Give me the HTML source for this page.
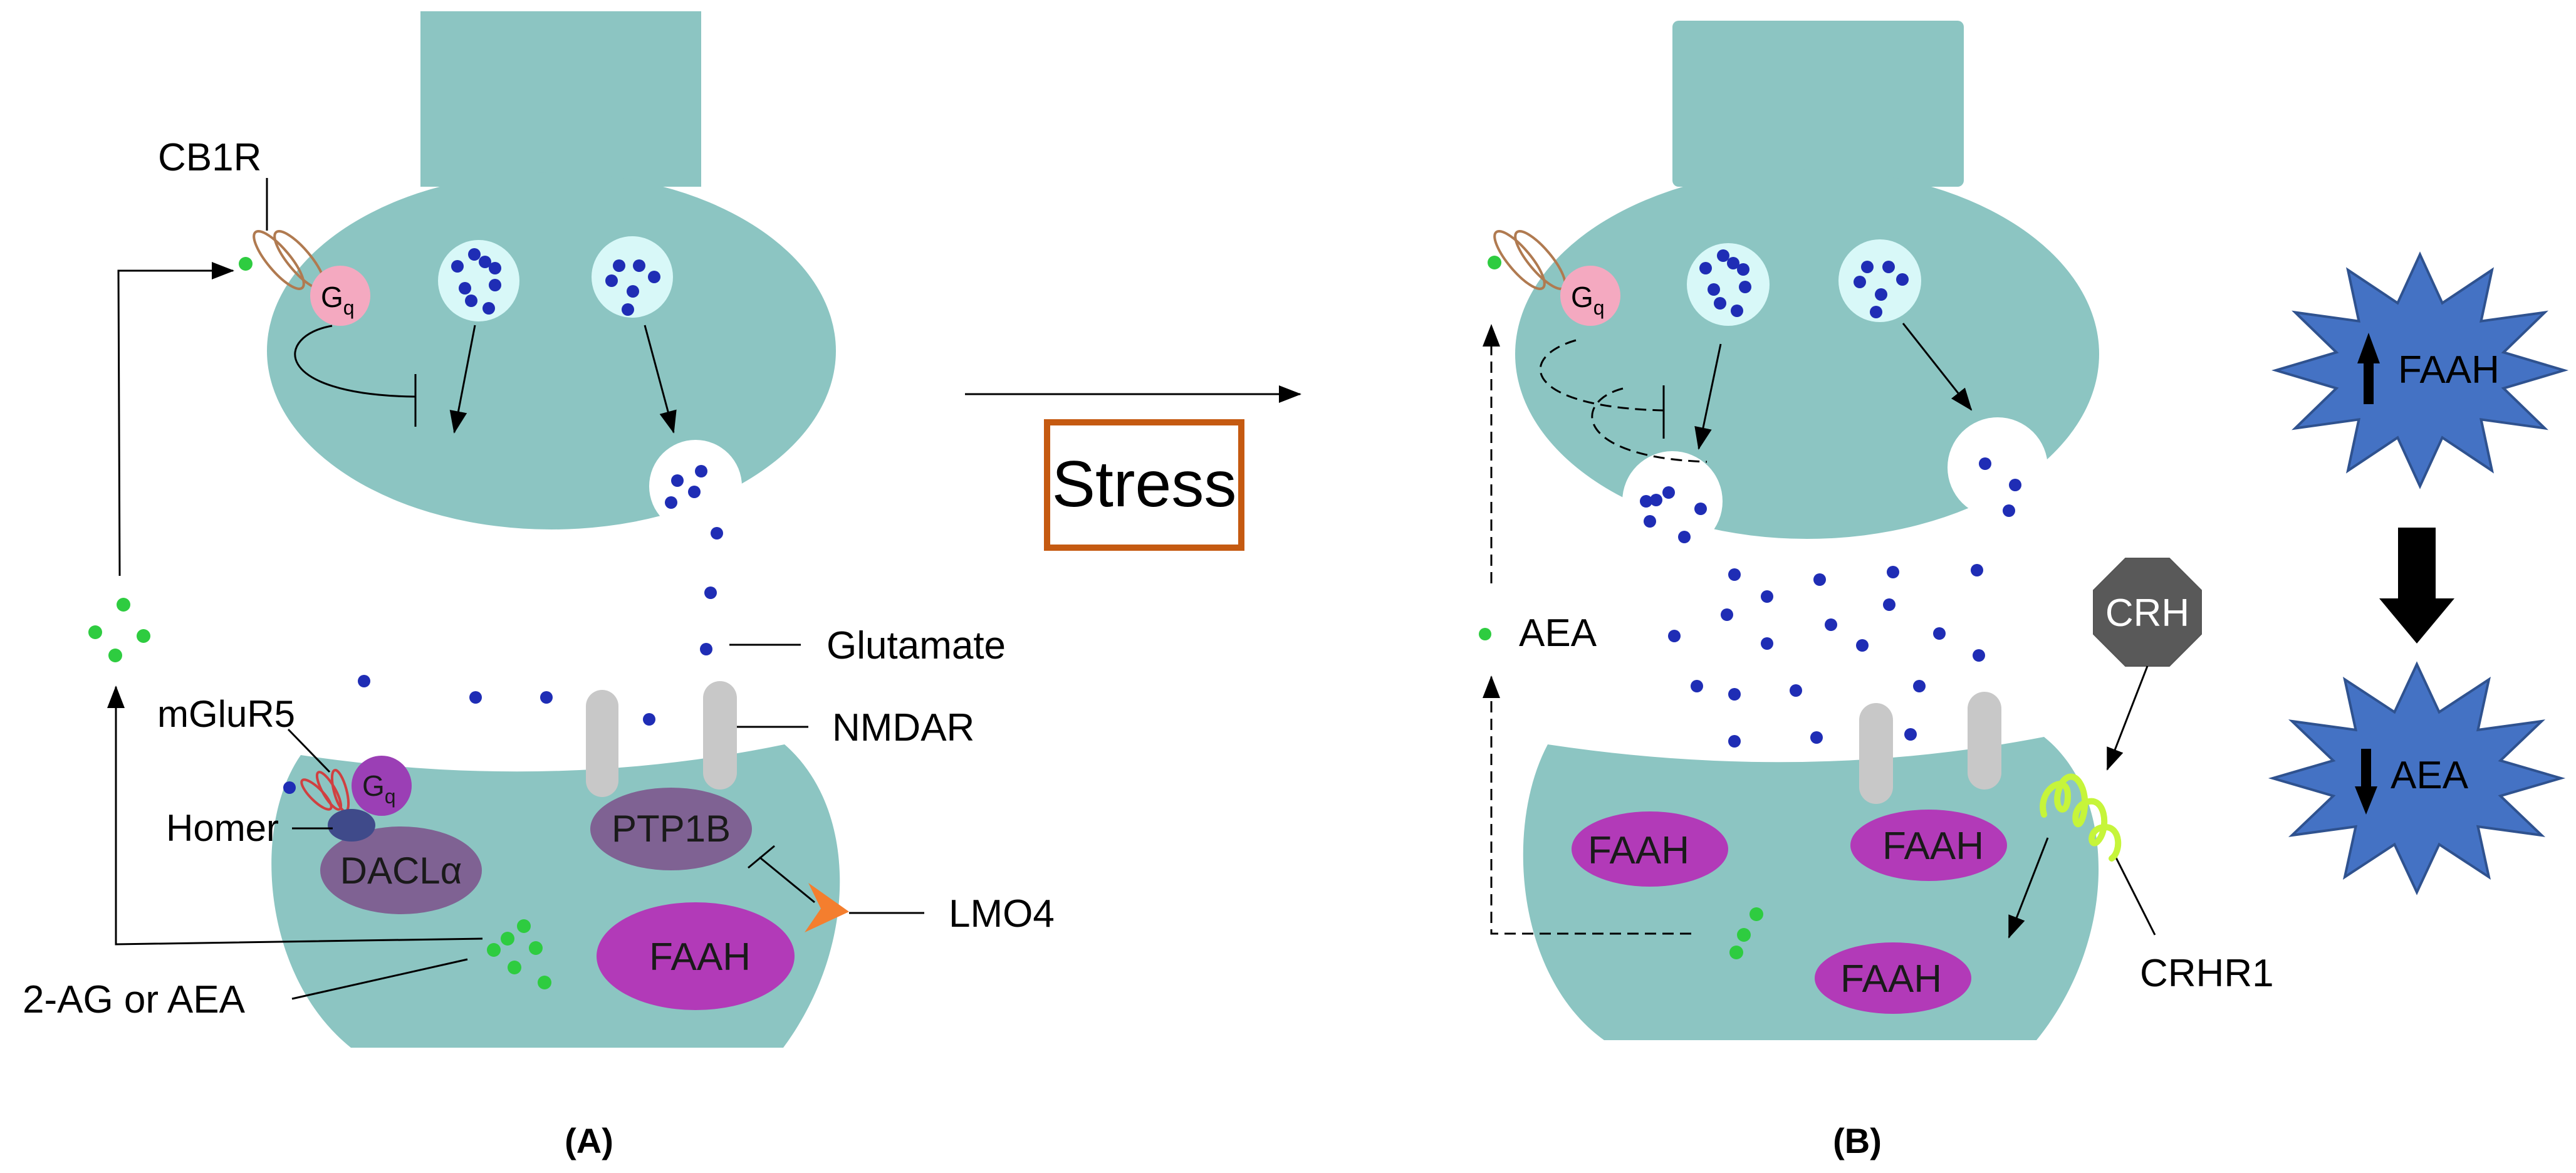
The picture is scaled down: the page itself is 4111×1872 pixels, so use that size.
<!DOCTYPE html>
<html><head><meta charset="utf-8"><style>
html,body{margin:0;padding:0;background:#fff;}
svg{display:block;}
text{font-family:"Liberation Sans",sans-serif;}
</style></head><body>
<svg width="4111" height="1872" viewBox="0 0 4111 1872" xmlns="http://www.w3.org/2000/svg">
<defs>
<marker id="ah" markerWidth="10" markerHeight="10" refX="9" refY="5" orient="auto" markerUnits="userSpaceOnUse" viewBox="0 0 10 10"><path d="M0,0 L10,5 L0,10 z" fill="#000"/></marker>
<marker id="ahb" markerWidth="36" markerHeight="36" refX="34" refY="18" orient="auto" markerUnits="userSpaceOnUse" viewBox="0 0 36 36"><path d="M0,4 L36,18 L0,32 z" fill="#000"/></marker>
<g id="star"><polygon vector-effect="non-scaling-stroke" points="100,0 58,15.5 86.6,50 42.4,42.4 50,86.6 15.5,58 0,100 -15.5,58 -50,86.6 -42.4,42.4 -86.6,50 -58,15.5 -100,0 -58,-15.5 -86.6,-50 -42.4,-42.4 -50,-86.6 -15.5,-58 0,-100 15.5,-58 50,-86.6 42.4,-42.4 86.6,-50 58,-15.5" fill="#4472c4" stroke="#2f528f" stroke-width="4"/></g>
</defs>

<!-- ============ PANEL A ============ -->
<g fill="#8cc5c2">
<rect x="671" y="18" width="448" height="280"/>
<ellipse cx="880" cy="560" rx="454" ry="285"/>
<path d="M480 1205 Q 880 1265 1252 1188 C 1370 1290 1370 1510 1250 1672 L 560 1672 C 420 1560 400 1320 480 1205 Z"/>
</g>
<circle cx="1110" cy="776" r="74" fill="#fff"/>
<!-- vesicles -->
<circle cx="764" cy="448" r="65" fill="#d8f8f8"/>
<circle cx="1009" cy="442" r="65" fill="#d8f8f8"/>
<g fill="#1f2db5">
<circle cx="730" cy="425" r="10"/><circle cx="757" cy="406" r="10"/><circle cx="774" cy="418" r="10"/><circle cx="790" cy="428" r="10"/><circle cx="742" cy="460" r="10"/><circle cx="790" cy="455" r="10"/><circle cx="752" cy="480" r="10"/><circle cx="780" cy="492" r="10"/>
<circle cx="988" cy="424" r="10"/><circle cx="1020" cy="424" r="10"/><circle cx="976" cy="448" r="10"/><circle cx="1044" cy="442" r="10"/><circle cx="1010" cy="465" r="10"/><circle cx="1002" cy="494" r="10"/>
<circle cx="1081" cy="767" r="10"/><circle cx="1119" cy="752" r="10"/><circle cx="1108" cy="785" r="10"/><circle cx="1071" cy="802" r="10"/>
<circle cx="1144" cy="851" r="10"/><circle cx="1134" cy="946" r="10"/><circle cx="1127" cy="1036" r="10"/>
<circle cx="581" cy="1087" r="10"/><circle cx="759" cy="1113" r="10"/><circle cx="872" cy="1113" r="10"/><circle cx="1036" cy="1148" r="10"/><circle cx="462" cy="1257" r="10"/>
</g>
<g stroke="#000" stroke-width="3" fill="none">
<line x1="758" y1="519" x2="725" y2="690" marker-end="url(#ahb)"/>
<line x1="1029" y1="519" x2="1075" y2="690" marker-end="url(#ahb)"/>
<path d="M530 520 C 440 535, 430 630, 662 633"/>
<line x1="663" y1="597" x2="663" y2="681"/>
</g>
<!-- CB1R -->
<g fill="none" stroke="#b07a50" stroke-width="4">
<ellipse cx="445" cy="415" rx="18" ry="58" transform="rotate(-40 445 415)"/>
<ellipse cx="478" cy="415" rx="18" ry="58" transform="rotate(-40 478 415)"/>
</g>
<circle cx="543" cy="472" r="48" fill="#f4a9c0"/>
<text x="512" y="490" font-size="46">G<tspan font-size="32" dy="12">q</tspan></text>
<circle cx="392" cy="421" r="11" fill="#2ecc40"/>
<text x="252" y="272" font-size="62">CB1R</text>
<line x1="426" y1="284" x2="426" y2="368" stroke="#000" stroke-width="3"/>
<!-- feedback arrow -->
<polyline points="191,919 189,432 372,432" fill="none" stroke="#000" stroke-width="3" marker-end="url(#ahb)"/>
<g fill="#2ecc40">
<circle cx="197" cy="965" r="11"/><circle cx="152" cy="1009" r="11"/><circle cx="229" cy="1015" r="11"/><circle cx="184" cy="1046" r="11"/>
</g>
<polyline points="770,1498 185,1507 185,1096" fill="none" stroke="#000" stroke-width="3" marker-end="url(#ahb)"/>
<!-- NMDAR -->
<rect x="935" y="1101" width="52" height="171" rx="26" fill="#c8c8c8"/>
<rect x="1122" y="1087" width="54" height="173" rx="27" fill="#c8c8c8"/>
<!-- ellipses -->
<ellipse cx="1071" cy="1323" rx="129" ry="66" fill="#7f6293"/>
<text x="1071" y="1343" font-size="60" text-anchor="middle" fill="#1a1a1a">PTP1B</text>
<ellipse cx="640" cy="1389" rx="129" ry="70" fill="#7f6293"/>
<text x="640" y="1410" font-size="60" text-anchor="middle" fill="#1a1a1a">DACLα</text>
<ellipse cx="1110" cy="1526" rx="158" ry="86" fill="#b23ab8"/>
<text x="1117" y="1548" font-size="62" text-anchor="middle" fill="#1a1a1a">FAAH</text>
<!-- mGluR5 -->
<g fill="none" stroke="#d04040" stroke-width="4">
<ellipse cx="505" cy="1268" rx="10" ry="32" transform="rotate(-45 505 1268)"/>
<ellipse cx="525" cy="1262" rx="10" ry="34" transform="rotate(-30 525 1262)"/>
<ellipse cx="543" cy="1262" rx="10" ry="34" transform="rotate(-15 543 1262)"/>
</g>
<circle cx="609" cy="1254" r="48" fill="#9b3fb5"/>
<text x="578" y="1270" font-size="46" fill="#1a1a1a">G<tspan font-size="32" dy="12">q</tspan></text>
<ellipse cx="561" cy="1317" rx="38" ry="26" fill="#3f4a8a"/>
<text x="251" y="1160" font-size="60">mGluR5</text>
<line x1="460" y1="1164" x2="526" y2="1232" stroke="#000" stroke-width="3"/>
<text x="265" y="1342" font-size="60">Homer</text>
<line x1="466" y1="1322" x2="531" y2="1322" stroke="#000" stroke-width="3"/>
<!-- LMO4 -->
<polygon points="1290,1409 1355,1455 1284,1488 1310,1450" fill="#f47e2e"/>
<g stroke="#000" stroke-width="3">
<line x1="1300" y1="1440" x2="1212" y2="1368"/>
<line x1="1194" y1="1385" x2="1236" y2="1350"/>
<line x1="1355" y1="1457" x2="1475" y2="1457"/>
<line x1="466" y1="1594" x2="746" y2="1531"/>
<line x1="1164" y1="1029" x2="1278" y2="1029"/>
<line x1="1176" y1="1160" x2="1290" y2="1160"/>
</g>
<text x="1514" y="1479" font-size="62">LMO4</text>
<text x="1319" y="1051" font-size="62">Glutamate</text>
<text x="1328" y="1182" font-size="62">NMDAR</text>
<g fill="#2ecc40">
<circle cx="836" cy="1478" r="11"/><circle cx="810" cy="1498" r="11"/><circle cx="788" cy="1516" r="11"/><circle cx="855" cy="1513" r="11"/><circle cx="821" cy="1544" r="11"/><circle cx="869" cy="1568" r="11"/>
</g>
<text x="36" y="1616" font-size="62">2-AG or AEA</text>
<text x="940" y="1840" font-size="56" font-weight="bold" text-anchor="middle">(A)</text>

<!-- ============ STRESS ============ -->
<line x1="1540" y1="629" x2="2075" y2="629" stroke="#000" stroke-width="3" marker-end="url(#ahb)"/>
<rect x="1671" y="674" width="310" height="200" fill="#fff" stroke="#c55a11" stroke-width="10"/>
<text x="1826" y="808" font-size="104" text-anchor="middle">Stress</text>

<!-- ============ PANEL B ============ -->
<g fill="#8cc5c2">
<rect x="2669" y="33" width="465" height="265" rx="10"/>
<ellipse cx="2884" cy="565" rx="466" ry="295"/>
<path d="M2470 1188 Q 2880 1250 3262 1176 C 3380 1270 3380 1500 3250 1660 L 2560 1660 C 2420 1560 2400 1320 2470 1188 Z"/>
</g>
<circle cx="2669" cy="800" r="80" fill="#fff"/>
<circle cx="3188" cy="746" r="80" fill="#fff"/>
<circle cx="2758" cy="454" r="66" fill="#d8f8f8"/>
<circle cx="3000" cy="448" r="66" fill="#d8f8f8"/>
<g fill="#1f2db5">
<circle cx="2722" cy="428" r="10"/><circle cx="2750" cy="408" r="10"/><circle cx="2766" cy="420" r="10"/><circle cx="2782" cy="430" r="10"/><circle cx="2735" cy="462" r="10"/><circle cx="2785" cy="458" r="10"/><circle cx="2745" cy="484" r="10"/><circle cx="2772" cy="496" r="10"/>
<circle cx="2980" cy="426" r="10"/><circle cx="3014" cy="426" r="10"/><circle cx="2968" cy="450" r="10"/><circle cx="3036" cy="446" r="10"/><circle cx="3002" cy="470" r="10"/><circle cx="2994" cy="498" r="10"/>
<circle cx="2627" cy="800" r="10"/><circle cx="2663" cy="786" r="10"/><circle cx="2643" cy="798" r="10"/><circle cx="2714" cy="812" r="10"/><circle cx="2633" cy="832" r="10"/><circle cx="2688" cy="857" r="10"/>
<circle cx="3168" cy="740" r="10"/><circle cx="3216" cy="774" r="10"/><circle cx="3206" cy="815" r="10"/>
<circle cx="2768" cy="917" r="10"/><circle cx="2904" cy="925" r="10"/><circle cx="3021" cy="913" r="10"/><circle cx="3155" cy="910" r="10"/>
<circle cx="2820" cy="952" r="10"/><circle cx="2756" cy="981" r="10"/><circle cx="2922" cy="997" r="10"/><circle cx="3015" cy="965" r="10"/>
<circle cx="2672" cy="1015" r="10"/><circle cx="2820" cy="1027" r="10"/><circle cx="2972" cy="1030" r="10"/><circle cx="3095" cy="1011" r="10"/><circle cx="3158" cy="1046" r="10"/>
<circle cx="2708" cy="1095" r="10"/><circle cx="2768" cy="1108" r="10"/><circle cx="2866" cy="1102" r="10"/><circle cx="3063" cy="1095" r="10"/>
<circle cx="2768" cy="1183" r="10"/><circle cx="2899" cy="1177" r="10"/><circle cx="3049" cy="1172" r="10"/>
</g>
<g stroke="#000" stroke-width="3" fill="none">
<line x1="2746" y1="549" x2="2711" y2="716" marker-end="url(#ahb)"/>
<line x1="3037" y1="516" x2="3146" y2="654" marker-end="url(#ahb)"/>
<g stroke-dasharray="18,10">
<path d="M2515 543 C 2420 570, 2430 650, 2655 655"/>
<path d="M2590 620 C 2510 640, 2510 730, 2724 737"/>
<line x1="2380" y1="931" x2="2380" y2="519" marker-end="url(#ahb)"/>
<polyline points="2699,1490 2380,1490 2380,1080" marker-end="url(#ahb)"/>
</g>
<line x1="2655" y1="615" x2="2655" y2="700"/>
</g>
<g fill="none" stroke="#b07a50" stroke-width="4">
<ellipse cx="2425" cy="415" rx="18" ry="58" transform="rotate(-40 2425 415)"/>
<ellipse cx="2458" cy="415" rx="18" ry="58" transform="rotate(-40 2458 415)"/>
</g>
<circle cx="2538" cy="472" r="48" fill="#f4a9c0"/>
<text x="2507" y="490" font-size="46">G<tspan font-size="32" dy="12">q</tspan></text>
<circle cx="2385" cy="419" r="11" fill="#2ecc40"/>
<circle cx="2370" cy="1012" r="10" fill="#2ecc40"/>
<text x="2424" y="1031" font-size="62">AEA</text>
<rect x="2967" y="1122" width="54" height="161" rx="27" fill="#c8c8c8"/>
<rect x="3140" y="1104" width="54" height="156" rx="27" fill="#c8c8c8"/>
<ellipse cx="2633" cy="1355" rx="125" ry="60" fill="#b23ab8"/>
<text x="2615" y="1378" font-size="62" text-anchor="middle" fill="#1a1a1a">FAAH</text>
<ellipse cx="3078" cy="1349" rx="125" ry="57" fill="#b23ab8"/>
<text x="3085" y="1371" font-size="62" text-anchor="middle" fill="#1a1a1a">FAAH</text>
<ellipse cx="3021" cy="1561" rx="125" ry="57" fill="#b23ab8"/>
<text x="3018" y="1583" font-size="62" text-anchor="middle" fill="#1a1a1a">FAAH</text>
<g fill="#2ecc40"><circle cx="2803" cy="1459" r="11"/><circle cx="2783" cy="1492" r="11"/><circle cx="2771" cy="1520" r="11"/></g>
<!-- CRH -->
<polygon points="3392,891 3462,891 3513,942 3513,1012 3462,1063 3392,1063 3341,1012 3341,942" fill="#595959" stroke="#555" stroke-width="2"/>
<text x="3427" y="999" font-size="62" fill="#fff" text-anchor="middle">CRH</text>
<g stroke="#000" stroke-width="3">
<line x1="3427" y1="1063" x2="3363" y2="1228" marker-end="url(#ahb)"/>
<line x1="3268" y1="1337" x2="3206" y2="1496" marker-end="url(#ahb)"/>
<line x1="3373" y1="1361" x2="3439" y2="1492"/>
</g>
<path d="M3262 1300 C 3250 1260, 3300 1230, 3300 1270 C 3300 1310, 3270 1290, 3290 1250 C 3310 1220, 3335 1260, 3325 1300 C 3315 1340, 3300 1290, 3330 1280 C 3360 1270, 3365 1320, 3350 1340 C 3335 1360, 3330 1320, 3360 1320 C 3385 1320, 3385 1360, 3370 1370" fill="none" stroke="#c6f53a" stroke-width="10" stroke-linecap="round"/>
<text x="3415" y="1574" font-size="62">CRHR1</text>
<text x="2964" y="1840" font-size="56" font-weight="bold" text-anchor="middle">(B)</text>

<!-- stars -->
<use href="#star" transform="translate(3862 591) scale(2.3 1.85)"/>
<use href="#star" transform="translate(3857 1242) scale(2.3 1.82)"/>
<rect x="3772" y="575" width="16" height="70" fill="#000"/>
<polygon points="3762,580 3780,531 3798,580" fill="#000"/>
<text x="3827" y="611" font-size="62" fill="#000">FAAH</text>
<rect x="3768" y="1195" width="16" height="70" fill="#000"/>
<polygon points="3758,1255 3776,1300 3794,1255" fill="#000"/>
<text x="3815" y="1258" font-size="62" fill="#000">AEA</text>
<rect x="3827" y="842" width="60" height="115" fill="#000"/>
<polygon points="3797,955 3917,955 3857,1027" fill="#000"/>
</svg>
</body></html>
